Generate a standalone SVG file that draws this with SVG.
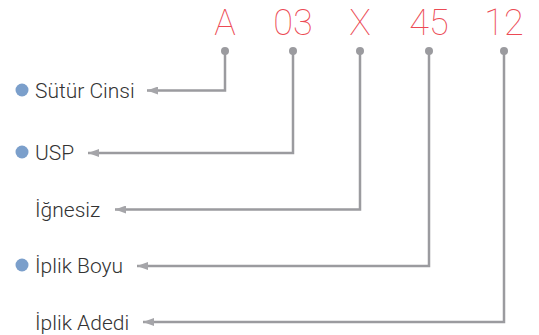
<svg xmlns="http://www.w3.org/2000/svg" width="539" height="335" viewBox="0 0 539 335">
<defs>
<style>
.code{font-family:Roboto,"Liberation Sans",sans-serif;font-weight:100;font-size:36px;fill:#ec4a54;text-anchor:middle}
.lbl{font-family:Roboto,"Liberation Sans",sans-serif;font-weight:300;font-size:21px;fill:#333}
.bul{fill:#7b9fcb}
.con{fill:none;stroke:#9b9b9f;stroke-width:2.5}
.pin{fill:#9b9b9f}
</style>
<marker id="ah" viewBox="0 0 11 8" refX="11" refY="4" markerWidth="11" markerHeight="8" markerUnits="userSpaceOnUse" orient="auto">
<path d="M0,0 L11,4 L0,8 Z" fill="#a5a5a9"/>
</marker>
</defs>
<g id="codes">
<text class="code" x="225" y="35">A</text>
<text class="code" x="293" y="35">03</text>
<text class="code" x="360" y="35">X</text>
<text class="code" x="429" y="35">45</text>
<text class="code" x="504" y="35">12</text>
</g>
<g id="connectors">
<circle class="pin" cx="225" cy="51" r="4"/>
<circle class="pin" cx="293" cy="51" r="4"/>
<circle class="pin" cx="360" cy="51" r="4"/>
<circle class="pin" cx="429" cy="51" r="4"/>
<circle class="pin" cx="504" cy="51" r="4"/>
<polyline class="con" points="225,51 225,90.5 147,90.5" marker-end="url(#ah)"/>
<polyline class="con" points="293,51 293,153 88,153" marker-end="url(#ah)"/>
<polyline class="con" points="360,51 360,209.5 115,209.5" marker-end="url(#ah)"/>
<polyline class="con" points="429,51 429,266 137,266" marker-end="url(#ah)"/>
<polyline class="con" points="504,51 504,322 143,322" marker-end="url(#ah)"/>
</g>
<g id="n1"><circle class="bul" cx="22" cy="90" r="6.5"/><text class="lbl" x="35" y="98">Sütür Cinsi</text></g>
<g id="n2"><circle class="bul" cx="22" cy="152" r="6.5"/><text class="lbl" x="35" y="160">USP</text></g>
<g id="n3"><text class="lbl" x="35" y="217">İğnesiz</text></g>
<g id="n4"><circle class="bul" cx="22" cy="265" r="6.5"/><text class="lbl" x="35" y="273">İplik Boyu</text></g>
<g id="n5"><text class="lbl" x="35" y="330">İplik Adedi</text></g>
</svg>
